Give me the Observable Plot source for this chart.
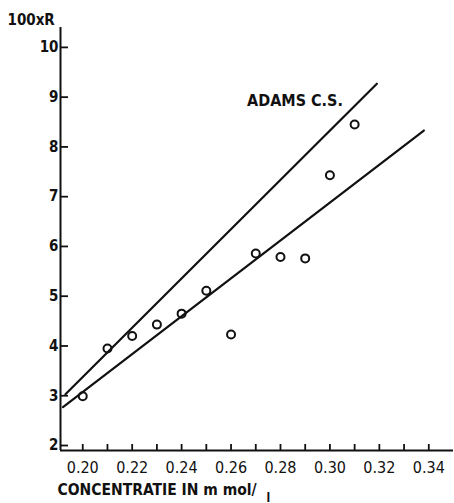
<!DOCTYPE html>
<html><head><meta charset="utf-8">
<script src="https://cdn.jsdelivr.net/npm/d3@7"></script>
<script src="https://cdn.jsdelivr.net/npm/@observablehq/plot@0.6"></script>
<style>body{margin:0;background:#fff}</style>
</head><body><div id="chart"></div>
<script>
// measured points (concentration in mmol/l, 100 x R)
const concentration = [0.20, 0.21, 0.22, 0.23, 0.24, 0.25, 0.26, 0.27, 0.28, 0.29, 0.30, 0.31];
const ratio100 = [3.09, 4.05, 4.30, 4.53, 4.75, 5.21, 4.33, 5.96, 5.89, 5.86, 7.53, 8.55];
// Adams C.S. line (steeper) and fitted line
const adamsX = [0.193, 0.319];
const adamsY = [3.13, 9.37];
const fitX = [0.192, 0.338];
const fitY = [2.87, 8.43];
// ticks and labels
const yTicks = [2, 3, 4, 5, 6, 7, 8, 9, 10];
const xMinorTicks = [0.20, 0.21, 0.22, 0.23, 0.24, 0.25, 0.26, 0.27, 0.28, 0.29, 0.30, 0.31, 0.32, 0.33, 0.34];
const xTickLabels = [0.20, 0.22, 0.24, 0.26, 0.28, 0.30, 0.32, 0.34];
const xDomain = [0.191, 0.35];
const yDomain = [2, 10.5];
const lineLabel = ["ADAMS C.S."];
const lineLabelX = [0.2665];
const lineLabelY = [9.03];
const yTitle = "100xR";
const xTitle = "CONCENTRATIE IN m mol/";
const xTitleUnit = "l";

const font = "'DejaVu Sans Condensed', 'Liberation Sans Narrow', 'DejaVu Sans', sans-serif";
const ink = "#111";

const adams = adamsX.map((x, i) => ({x, y: adamsY[i]}));
const fit = fitX.map((x, i) => ({x, y: fitY[i]}));
const points = concentration.map((x, i) => ({x, y: ratio100[i]}));

const chart = Plot.plot({
  width: 454,
  height: 503,
  marginLeft: 60,
  marginRight: 1,
  marginTop: 27,
  marginBottom: 53,
  style: {fontFamily: font, color: ink, background: "#fff", overflow: "visible"},
  x: {domain: xDomain},
  y: {domain: yDomain},
  marks: [
    Plot.ruleX([xDomain[0]], {y1: yDomain[0], y2: yDomain[1], stroke: ink, strokeWidth: 2}),
    Plot.ruleY([yDomain[0]], {x1: xDomain[0], x2: xDomain[1], stroke: ink, strokeWidth: 2}),
    Plot.axisY(yTicks, {anchor: "left", tickSize: -8, tickPadding: 10, strokeWidth: 1.8, stroke: ink,
      fontSize: 15, fontWeight: "bold", fill: ink, dy: -5, label: null, tickFormat: d => String(d)}),
    Plot.axisX(xMinorTicks, {anchor: "bottom", tickSize: -6, strokeWidth: 1.8, stroke: ink, text: null, label: null}),
    Plot.axisX(xTickLabels, {anchor: "bottom", tickSize: 0, tickPadding: 11, fontSize: 16, fill: ink,
      tickFormat: d => d.toFixed(2), label: null}),
    Plot.line(adams, {x: "x", y: "y", stroke: ink, strokeWidth: 2.2}),
    Plot.line(fit, {x: "x", y: "y", stroke: ink, strokeWidth: 2.2}),
    Plot.dot(points, {x: "x", y: "y", r: 4, stroke: ink, strokeWidth: 2, fill: "none"}),
    Plot.text(lineLabel, {x: lineLabelX, y: lineLabelY, text: d => d, textAnchor: "start",
      fontSize: 16, fontWeight: "bold", fill: ink}),
    Plot.text([yTitle], {frameAnchor: "top-left", text: d => d, dx: -53, dy: -13, textAnchor: "start",
      lineAnchor: "top", fontSize: 15, fontWeight: "bold", fill: ink}),
    Plot.text([xTitle], {frameAnchor: "bottom-left", text: d => d, dx: -3, dy: 44, textAnchor: "start",
      lineAnchor: "bottom", fontSize: 15.5, fontWeight: "bold", fill: ink}),
    Plot.text([xTitleUnit], {frameAnchor: "bottom-left", text: d => d, dx: 206, dy: 51, textAnchor: "start",
      lineAnchor: "bottom", fontSize: 12, fontWeight: "bold", fill: ink})
  ]
});
document.getElementById("chart").appendChild(chart);
</script>
</body></html>
